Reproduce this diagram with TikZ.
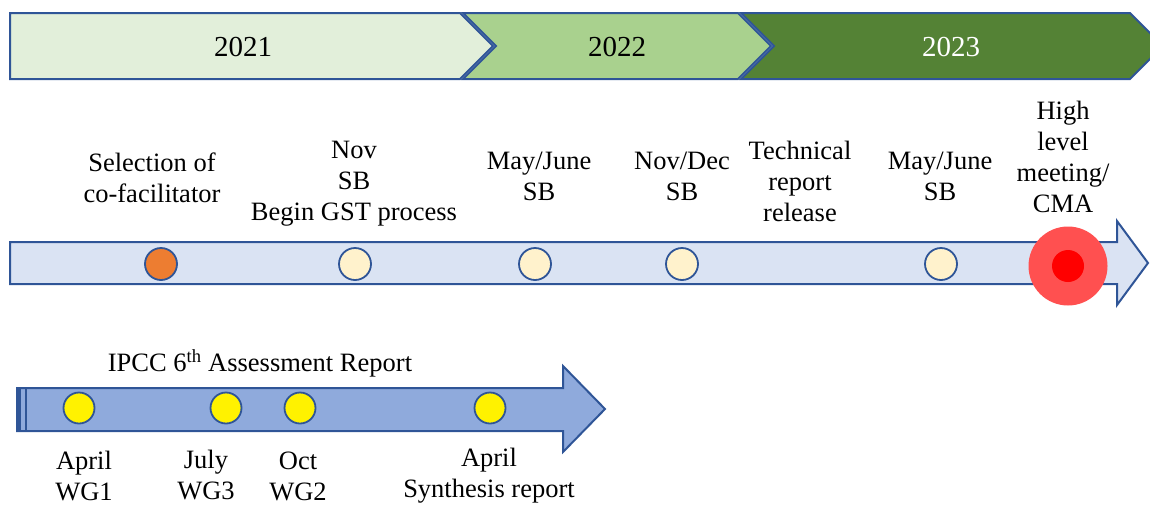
\documentclass[tikz,border=0pt]{standalone}
\usepackage{fontspec}
\setmainfont{Liberation Serif}
\definecolor{frameblue}{HTML}{2F5597}
\definecolor{yearA}{HTML}{E2EFDA}
\definecolor{yearB}{HTML}{A9D18E}
\definecolor{yearC}{HTML}{548235}
\definecolor{gstband}{HTML}{DAE3F3}
\definecolor{ipccband}{HTML}{8FAADC}
\definecolor{eventfill}{HTML}{FFF2CC}
\definecolor{firstfill}{HTML}{ED7D31}
\definecolor{cmaouter}{HTML}{FF5050}
\begin{document}
\begin{tikzpicture}[
        x=1pt, y=-1pt,
        band/.style={draw=frameblue, line width=2pt, line join=miter},
        year_label/.style={font=\fontsize{29}{34}\selectfont},
        event_label/.style={align=center, font=\fontsize{26.5}{31}\selectfont},
        gst_event/.style={circle, draw=frameblue, line width=1.8pt, fill=eventfill, minimum size=32pt, inner sep=0pt},
        ipcc_event/.style={circle, draw=frameblue, line width=1.8pt, fill=yellow, minimum size=31pt, inner sep=0pt}
    ]
        \useasboundingbox (0,0) rectangle (1150,504);
        \clip (0,0) rectangle (1150,504);

        % Years
        \filldraw[band, fill=yearA] (10,13) -- (460,13) -- (493,46) -- (460,79) -- (10,79) -- cycle;
        \filldraw[band, fill=yearB] (463,13) -- (738,13) -- (771,46) -- (738,79) -- (463,79) -- (496,46) -- cycle;
        \filldraw[band, fill=yearC] (741,13) -- (1130,13) -- (1163,46) -- (1130,79) -- (741,79) -- (774,46) -- cycle;
        \node[year_label] (y2021) at (243,47) {2021};
        \node[year_label] (y2022) at (617,47) {2022};
        \node[year_label, text=white] (y2023) at (951,47) {2023};

        % GST timeline
        \filldraw[band, fill=gstband] (10,242) -- (1117,242) -- (1117,221) -- (1148,263) -- (1117,305) -- (1117,284) -- (10,284) -- cycle;
        \node[gst_event, fill=firstfill] (cofac) at (161,264) {};
        \node[gst_event] (nov_sb) at (355,264) {};
        \node[gst_event] (may_sb) at (535,264) {};
        \node[gst_event] (dec_sb) at (682,264) {};
        \node[gst_event] (may_sb2) at (941,264) {};
        \node[circle, fill=cmaouter, minimum size=79pt, inner sep=0pt] (cma) at (1068,266) {};
        \node[circle, fill=red, minimum size=32pt, inner sep=0pt] (cma_core) at (cma) {};

        \node[event_label] (cofac_text) at (152,178) {Selection of\\co-facilitator};
        \node[event_label] (nov_text) at (354,184) {Nov\\SB\\Begin GST process};
        \node[event_label] (may_text) at (539,176) {May/June\\SB};
        \node[event_label] (dec_text) at (682,176) {Nov/Dec\\SB};
        \node[event_label] (tech_text) at (800,181) {Technical\\report\\release};
        \node[event_label] (may_text2) at (940,176) {May/June\\SB};
        \node[event_label] (cma_text) at (1063,157) {High\\level\\meeting/\\CMA};

        % IPCC timeline
        \filldraw[band, fill=ipccband] (17,388) -- (563,388) -- (563,366) -- (605,409) -- (563,452) -- (563,431) -- (17,431) -- cycle;
        \draw[frameblue, line width=4pt] (19,388) -- (19,431);
        \draw[frameblue, line width=1.5pt] (26,388) -- (26,431);
        \node[ipcc_event] (wg1) at (79,408) {};
        \node[ipcc_event] (wg3) at (226,408) {};
        \node[ipcc_event] (wg2) at (300,408) {};
        \node[ipcc_event] (synth) at (490,408) {};

        \node[event_label] (ipcc_text) at (260,363) {IPCC 6\textsuperscript{th} Assessment Report};
        \node[event_label] (wg1_text) at (84,476) {April\\WG1};
        \node[event_label] (wg3_text) at (206,475) {July\\WG3};
        \node[event_label] (wg2_text) at (298,476) {Oct\\WG2};
        \node[event_label] (synth_text) at (489,476) {April\\Synthesis report};

    \end{tikzpicture}
\end{document}
